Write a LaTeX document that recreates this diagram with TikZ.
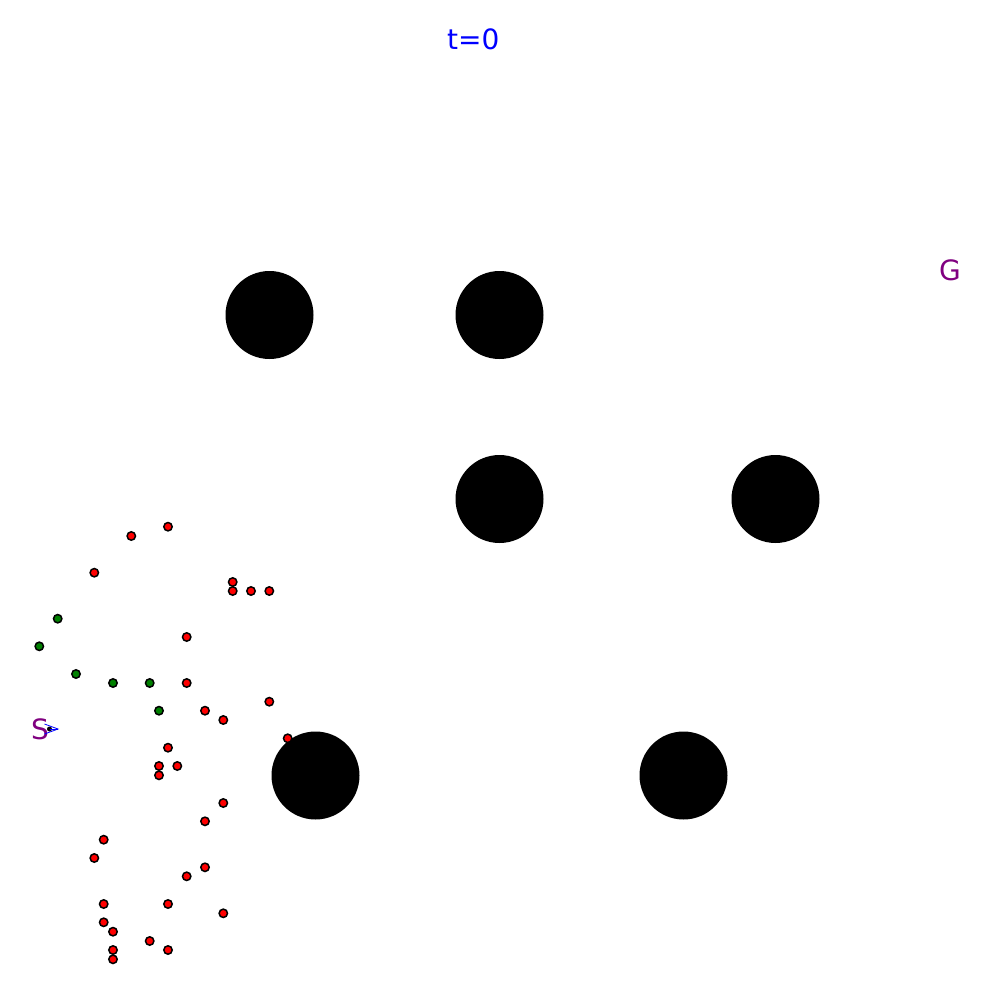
\documentclass[tikz,border=0pt]{standalone}
\usepackage{fontspec}
\setmainfont{DejaVu Sans}
\definecolor{mplpurple}{HTML}{800080}
\definecolor{mplgreen}{HTML}{008000}
\definecolor{mplred}{HTML}{FF0000}
\definecolor{mplblue}{HTML}{0000FF}
\begin{document}
\begin{tikzpicture}[x=1pt,y=-1pt,
  obstacle/.style={fill=black},
  reddot/.style={fill=mplred,draw=black,line width=1.5pt},
  greendot/.style={fill=mplgreen,draw=black,line width=1.5pt},
  lbl/.style={font=\fontsize{28}{30}\selectfont,anchor=base,inner sep=0pt}]
\useasboundingbox[fill=white] (0,0) rectangle (999,999);
% obstacles
\foreach \x/\y in {269.5/315, 499.5/315, 499.5/499, 775.5/499, 315.5/775.5, 683.5/775.5}
  \fill[obstacle] (\x,\y) circle (44);
% red samples
\foreach \x/\y in {168/526.7, 131.3/536, 94.3/572.7, 232.7/582, 232.7/591, 251/591, 269.3/591,
  186.7/637, 186.7/683, 205/710.7, 223.3/720, 269.3/701.7, 287.7/738.3, 168/747.7,
  159/766, 177.3/766, 159/775.3, 223.3/803, 205/821.3, 103.7/839.7, 94.3/858,
  205/867.3, 186.7/876.3, 103.7/904, 168/904, 223.3/913.3, 103.7/922.3, 113/931.7,
  149.7/941, 168/950, 113/950, 113/959.3}
  \draw[reddot] (\x,\y) circle (4.2);
% green samples
\foreach \x/\y in {57.7/618.7, 39.3/646.3, 76/674, 113/683, 149.7/683, 159/710.7}
  \draw[greendot] (\x,\y) circle (4.2);
% labels
\node[lbl,text=mplblue] (title) at (473.3,49.5) {t=0};
\node[lbl,text=mplpurple] (goal) at (950,280) {G};
\node[lbl,text=mplpurple] (start) at (40,739) {S};
% robot marker
\coordinate (robot) at (49.5,729);
\fill[black] (robot) circle (2.5);
\draw[mplblue,line width=0.8pt,line join=miter] (44.5,724) -- (58,729) -- (44.5,734);
\draw[mplblue,line width=0.8pt] (robot) -- (58,729);
\end{tikzpicture}
\end{document}
